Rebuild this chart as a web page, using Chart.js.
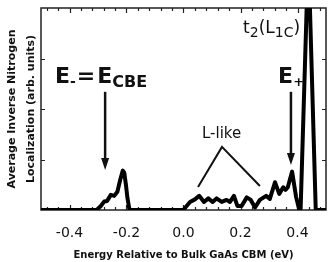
<!DOCTYPE html>
<html>
<head>
<meta charset="utf-8">
<script src="https://cdn.jsdelivr.net/npm/chart.js@4/dist/chart.umd.min.js"></script>
<style>
  html, body { margin: 0; padding: 0; background: #fff; }
  canvas { display: block; }
</style>
</head>
<body>
<canvas id="chart" width="328" height="262"></canvas>
<script>
// energy (eV) relative to bulk GaAs CBM
const energy = [
    -0.50, -0.305, -0.29, -0.278, -0.268, -0.255, -0.243, -0.232, -0.222, -0.213,
    -0.208, -0.202, -0.197, -0.190, -0.185,
    0.00, 0.008, 0.023, 0.040, 0.055, 0.072, 0.087, 0.102, 0.116, 0.134,
    0.151, 0.163, 0.177, 0.189, 0.204, 0.222, 0.236, 0.251, 0.268, 0.290,
    0.303, 0.321, 0.336, 0.350, 0.358, 0.366, 0.381, 0.395, 0.405, 0.411,
    0.438, 0.464, 0.50
];
// average inverse nitrogen localization (arb. units)
const localization = [
    0, 0, 0.08, 0.17, 0.18, 0.30, 0.28, 0.36, 0.60, 0.78,
    0.74, 0.50, 0.25, 0.02, 0,
    0, 0.06, 0.16, 0.21, 0.28, 0.16, 0.23, 0.16, 0.23, 0.16,
    0.20, 0.16, 0.28, 0.08, 0.08, 0.25, 0.20, 0.05, 0.20, 0.28,
    0.22, 0.55, 0.32, 0.45, 0.40, 0.45, 0.76, 0.26, 0.03, 0.03,
    5.1, 0, 0
];
const xTickValues = [-0.4, -0.2, 0.0, 0.2, 0.4];
const yTickValues = [1, 2, 3];

const FONT = 'DejaVu Sans';

// Khung + vạch chia hướng vào trong
const framePlugin = {
    id: 'frame',
    beforeDatasetsDraw(chart) {
        const { ctx, chartArea: a, scales: { x, y } } = chart;
        ctx.save();
        ctx.strokeStyle = '#222';
        ctx.lineWidth = 1.5;
        ctx.strokeRect(a.left, a.top, a.right - a.left, a.bottom - a.top);
        ctx.lineWidth = 1.2;
        ctx.beginPath();
        for (let v = -0.48; v < 0.5; v += 0.04) {
            const px = Math.round(x.getPixelForValue(v)) + 0.5;
            const major = xTickValues.some(t => Math.abs(t - v) < 0.001);
            const len = major ? 5 : 3;
            ctx.moveTo(px, a.top); ctx.lineTo(px, a.top + len);
            ctx.moveTo(px, a.bottom); ctx.lineTo(px, a.bottom - len);
        }
        yTickValues.forEach(v => {
            const py = Math.round(y.getPixelForValue(v)) + 0.5;
            ctx.moveTo(a.left, py); ctx.lineTo(a.left + 4, py);
            ctx.moveTo(a.right, py); ctx.lineTo(a.right - 4, py);
        });
        ctx.stroke();
        ctx.restore();
    }
};

function drawParts(ctx, x, y, parts) {
    let cx = x;
    parts.forEach(p => {
        ctx.font = p.font;
        cx += p.dx || 0;
        ctx.fillText(p.text, cx, y + (p.dy || 0));
        cx += ctx.measureText(p.text).width;
    });
}

function drawArrow(ctx, x, y1, y2) {
    ctx.beginPath();
    ctx.moveTo(x, y1);
    ctx.lineTo(x, y2 - 10);
    ctx.stroke();
    ctx.beginPath();
    ctx.moveTo(x - 4, y2 - 12);
    ctx.lineTo(x + 4, y2 - 12);
    ctx.lineTo(x, y2);
    ctx.closePath();
    ctx.fill();
}

// Chú thích trên biểu đồ
const notesPlugin = {
    id: 'notes',
    afterDraw(chart) {
        const { ctx, scales: { x, y } } = chart;
        ctx.save();
        ctx.fillStyle = '#111';
        ctx.strokeStyle = '#111';
        ctx.textBaseline = 'alphabetic';

        const big = `bold 22px ${FONT}`;
        drawParts(ctx, x.getPixelForValue(-0.451), y.getPixelForValue(2.51), [
            { text: 'E', font: big },
            { text: '-', font: `bold 14px ${FONT}`, dy: 3 },
            { text: '=', font: big, dx: 1 },
            { text: 'E', font: big, dx: 2 },
            { text: 'CBE', font: `bold 16px ${FONT}`, dy: 4 }
        ]);
        drawParts(ctx, x.getPixelForValue(0.332), y.getPixelForValue(2.51), [
            { text: 'E', font: big },
            { text: '+', font: `bold 13px ${FONT}`, dy: 3 }
        ]);
        drawParts(ctx, x.getPixelForValue(0.209), y.getPixelForValue(3.5), [
            { text: 't', font: `17px ${FONT}` },
            { text: '2', font: `14px ${FONT}`, dy: 4 },
            { text: '(L', font: `17px ${FONT}` },
            { text: '1', font: `14px ${FONT}`, dy: 4 },
            { text: 'C', font: `14px ${FONT}`, dy: 4 },
            { text: ')', font: `17px ${FONT}` }
        ]);
        drawParts(ctx, x.getPixelForValue(0.065), y.getPixelForValue(1.43), [
            { text: 'L-like', font: `15px ${FONT}` }
        ]);

        ctx.lineWidth = 2.5;
        drawArrow(ctx, x.getPixelForValue(-0.275), y.getPixelForValue(2.34), y.getPixelForValue(0.79));
        drawArrow(ctx, x.getPixelForValue(0.377), y.getPixelForValue(2.34), y.getPixelForValue(0.89));

        ctx.lineWidth = 2;
        ctx.beginPath();
        ctx.moveTo(x.getPixelForValue(0.051), y.getPixelForValue(0.455));
        ctx.lineTo(x.getPixelForValue(0.135), y.getPixelForValue(1.25));
        ctx.lineTo(x.getPixelForValue(0.268), y.getPixelForValue(0.475));
        ctx.stroke();
        ctx.restore();
    }
};

const ctx = document.getElementById('chart').getContext('2d');
new Chart(ctx, {
    type: 'line',
    data: {
        datasets: [{
            data: energy.map((e, i) => ({ x: e, y: localization[i] })),
            borderColor: '#000',
            borderWidth: 4,
            borderJoinStyle: 'round',
            pointRadius: 0,
            tension: 0,
            fill: false
        }]
    },
    options: {
        responsive: false,
        animation: false,
        layout: { padding: { top: 8, right: 2, left: 0, bottom: 0 } },
        plugins: {
            legend: { display: false },
            tooltip: { enabled: false }
        },
        scales: {
            x: {
                type: 'linear',
                min: -0.5,
                max: 0.5,
                afterBuildTicks: s => { s.ticks = xTickValues.map(v => ({ value: v })); },
                afterFit: s => { s.height = 52; },
                grid: { display: false, drawTicks: false },
                border: { display: false },
                ticks: {
                    color: '#111',
                    padding: 15,
                    maxRotation: 0,
                    font: { family: FONT, size: 14 },
                    callback: v => v.toFixed(1)
                },
                title: {
                    display: true,
                    text: 'Energy Relative to Bulk GaAs CBM (eV)',
                    color: '#111',
                    font: { family: FONT, size: 10, weight: 'bold' },
                    padding: { top: 0, bottom: 1 }
                }
            },
            y: {
                min: 0,
                max: 4,
                afterFit: s => { s.width = 41; },
                grid: { display: false, drawTicks: false },
                border: { display: false },
                ticks: { display: false },
                title: {
                    display: true,
                    text: ['Average Inverse Nitrogen', 'Localization (arb. units)'],
                    color: '#111',
                    font: { family: FONT, size: 11, weight: 'bold', lineHeight: 1.7 },
                    padding: { top: 3, bottom: 0 }
                }
            }
        }
    },
    plugins: [framePlugin, notesPlugin]
});
</script>
</body>
</html>
